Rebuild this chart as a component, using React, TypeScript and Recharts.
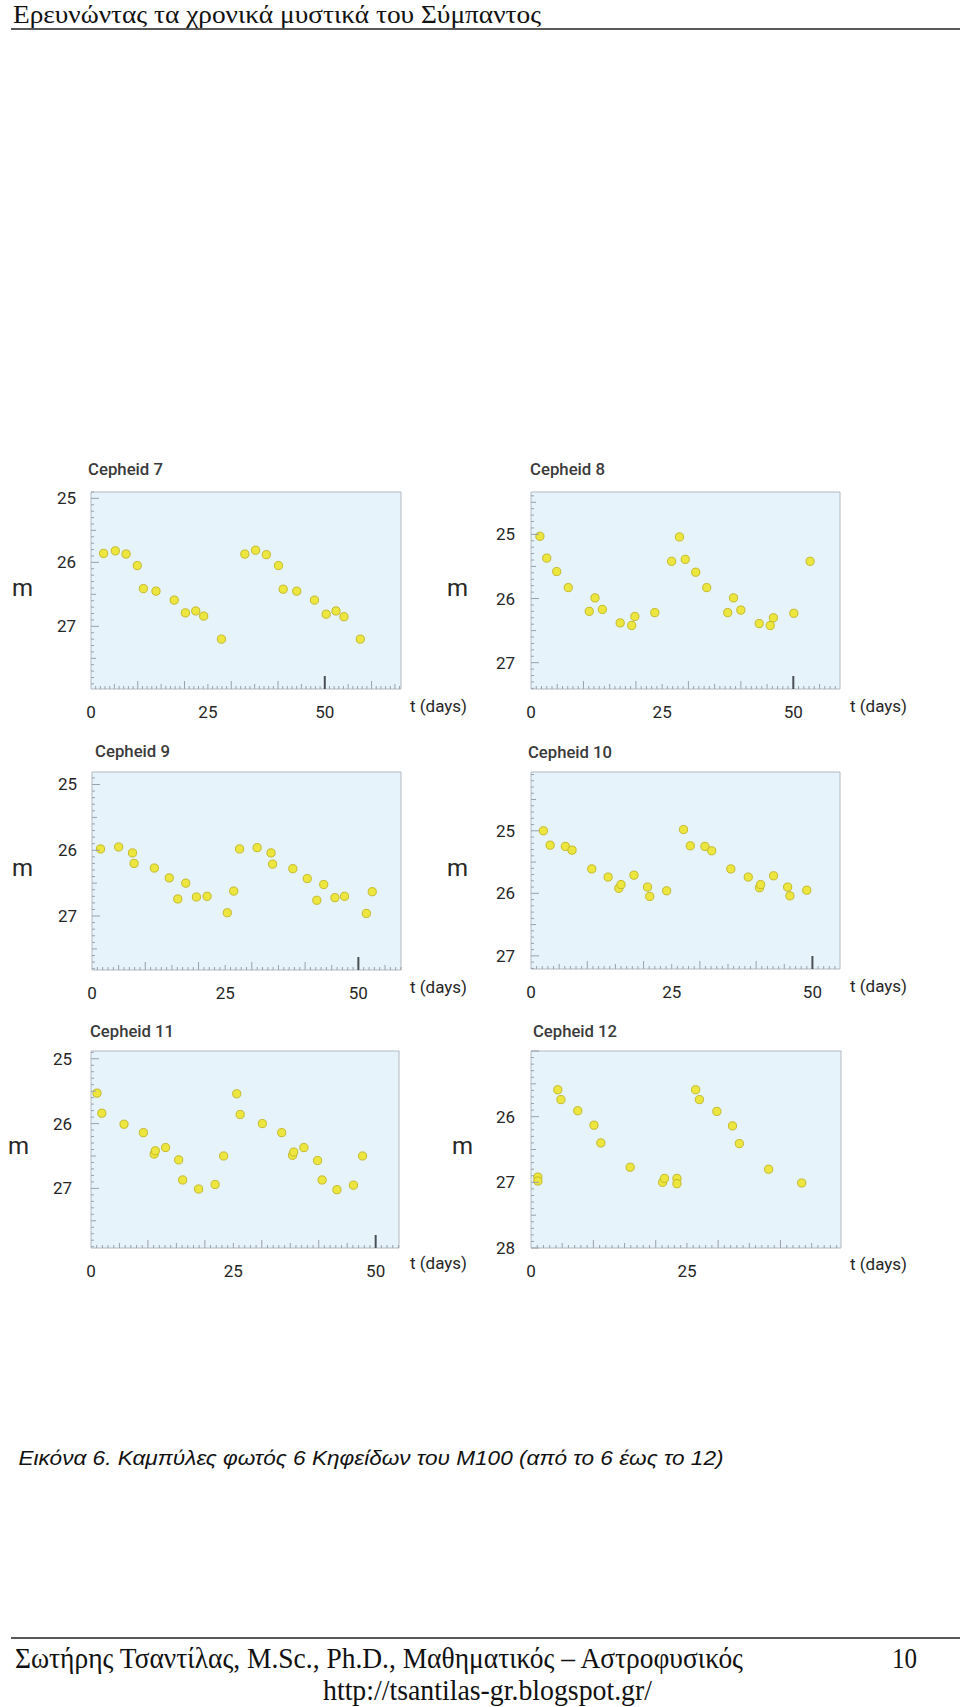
import { ScatterChart, Scatter, XAxis, YAxis, CartesianGrid, ReferenceArea } from 'recharts'

// light curves: t in days, m in magnitudes
const c7Days = [2.7, 5.2, 7.5, 9.9, 11.2, 13.9, 17.8, 20.2, 22.4, 24.1, 27.9, 32.9, 35.2, 37.5, 40.1, 41.1, 44.0, 47.8, 50.3, 52.4, 54.1, 57.6]
const c7Mags = [25.86, 25.82, 25.87, 26.05, 26.41, 26.45, 26.59, 26.79, 26.76, 26.84, 27.2, 25.87, 25.81, 25.88, 26.05, 26.42, 26.45, 26.59, 26.81, 26.76, 26.85, 27.2]

const c8Days = [1.7, 3.0, 4.9, 7.1, 11.1, 12.2, 13.6, 17.0, 19.2, 19.8, 23.6, 26.8, 28.3, 29.4, 31.4, 33.5, 37.5, 38.6, 40.0, 43.5, 45.6, 46.2, 50.1, 53.2]
const c8Mags = [25.03, 25.37, 25.58, 25.83, 26.2, 25.99, 26.17, 26.38, 26.42, 26.28, 26.22, 25.42, 25.04, 25.39, 25.59, 25.83, 26.22, 25.99, 26.18, 26.39, 26.42, 26.3, 26.23, 25.42]

const c9Days = [1.6, 5.0, 7.6, 7.9, 11.7, 14.5, 16.1, 17.6, 19.6, 21.6, 25.4, 26.6, 27.7, 31.0, 33.6, 33.9, 37.7, 40.4, 42.2, 43.5, 45.6, 47.4, 51.5, 52.6]
const c9Mags = [25.98, 25.95, 26.04, 26.2, 26.27, 26.42, 26.74, 26.5, 26.71, 26.7, 26.95, 26.62, 25.98, 25.96, 26.04, 26.21, 26.28, 26.43, 26.76, 26.52, 26.72, 26.7, 26.96, 26.63]

const c10Days = [2.2, 3.4, 6.1, 7.3, 10.8, 13.7, 15.6, 16.0, 18.3, 20.7, 21.1, 24.1, 27.1, 28.3, 30.9, 32.1, 35.5, 38.6, 40.6, 40.8, 43.1, 45.6, 46.0, 49.0]
const c10Mags = [25.0, 25.23, 25.25, 25.31, 25.61, 25.74, 25.92, 25.86, 25.71, 25.9, 26.05, 25.96, 24.98, 25.24, 25.25, 25.32, 25.61, 25.74, 25.91, 25.86, 25.72, 25.9, 26.04, 25.95]

const c11Days = [1.05, 1.9, 5.8, 9.2, 11.1, 11.3, 13.1, 15.4, 16.1, 18.9, 21.8, 23.3, 25.6, 26.2, 30.1, 33.5, 35.4, 35.6, 37.4, 39.8, 40.6, 43.2, 46.1, 47.7]
const c11Mags = [25.53, 25.84, 26.01, 26.14, 26.47, 26.42, 26.37, 26.56, 26.87, 27.01, 26.94, 26.5, 25.54, 25.86, 26.0, 26.14, 26.49, 26.44, 26.37, 26.57, 26.87, 27.02, 26.95, 26.5]

const c12Days = [1.1, 1.1, 4.3, 4.8, 7.5, 10.1, 11.2, 15.9, 21.1, 21.4, 23.4, 23.4, 26.4, 27.0, 29.8, 32.3, 33.4, 38.1, 43.4]
const c12Mags = [26.92, 26.98, 25.59, 25.74, 25.91, 26.13, 26.4, 26.77, 27.0, 26.94, 26.94, 27.02, 25.59, 25.74, 25.92, 26.14, 26.41, 26.8, 27.01]

// labelled ticks
const dayLabels = [0, 25, 50]
const dayLabels12 = [0, 25]
const magLabels = [25, 26, 27]
const magLabels12 = [26, 27, 28]

const PLOT_BG = '#e7f3fb'
const BORDER = '#b2b9c0'
const TICK = '#98a1aa'
const DOT_FILL = '#ede63f'
const DOT_STROKE = '#c4b92a'
const INK = '#262626'
const SANS = 'Roboto, sans-serif'
const SERIF = '"Liberation Serif", "Times New Roman", serif'

const steps = (lo: number, hi: number, step: number) => {
  const out: number[] = []
  for (let k = Math.ceil(lo / step - 1e-6); k * step <= hi + 1e-6; k++) out.push(Math.round(k * step * 10) / 10)
  return out
}

type Cfg = {
  title: string
  l: number; t: number; r: number; b: number
  xDomain: [number, number]
  yDomain: [number, number]
  xLabels: number[]
  yLabels: number[]
  gap: number
}

const panels: { cfg: Cfg; days: number[]; mags: number[] }[] = [
  { cfg: { title: 'Cepheid 7', l: 91, t: 492, r: 401, b: 689, xDomain: [0, 66.3], yDomain: [24.9, 27.98], xLabels: dayLabels, yLabels: magLabels, gap: 15 }, days: c7Days, mags: c7Mags },
  { cfg: { title: 'Cepheid 8', l: 531, t: 492, r: 840, b: 689, xDomain: [0, 58.9], yDomain: [24.34, 27.41], xLabels: dayLabels, yLabels: magLabels, gap: 16 }, days: c8Days, mags: c8Mags },
  { cfg: { title: 'Cepheid 9', l: 92, t: 772, r: 401, b: 970, xDomain: [0, 58.0], yDomain: [24.81, 27.82], xLabels: dayLabels, yLabels: magLabels, gap: 15 }, days: c9Days, mags: c9Mags },
  { cfg: { title: 'Cepheid 10', l: 531, t: 772, r: 840, b: 969, xDomain: [0, 54.9], yDomain: [24.06, 27.21], xLabels: dayLabels, yLabels: magLabels, gap: 16 }, days: c10Days, mags: c10Mags },
  { cfg: { title: 'Cepheid 11', l: 91, t: 1051, r: 399, b: 1248, xDomain: [0, 54.1], yDomain: [24.88, 27.92], xLabels: dayLabels, yLabels: magLabels, gap: 19 }, days: c11Days, mags: c11Mags },
  { cfg: { title: 'Cepheid 12', l: 531, t: 1051, r: 841, b: 1248, xDomain: [0, 49.7], yDomain: [25.0, 28.0], xLabels: dayLabels12, yLabels: magLabels12, gap: 16 }, days: c12Days, mags: c12Mags },
]

const has = (list: number[], v: number) => list.some((x) => Math.abs(x - v) < 1e-6)

function DayTick(props: any) {
  const { x, y, payload, labels } = props
  const v = payload.value
  const d = Math.round(v)
  let len = 3
  let w = 1
  let color = TICK
  if (d % 10 === 0) len = 8
  else if (d % 5 === 0) len = 5
  if (d === 50) { len = 13; w = 2; color = '#4a4f55' }
  return (
    <g>
      {v > 0 && <line x1={x} x2={x} y1={y} y2={y - len} stroke={color} strokeWidth={w} />}
      {has(labels, v) && (
        <text x={x} y={y + 23} textAnchor="middle" dominantBaseline="central" fontFamily={SANS} fontSize={17} fill={INK}>{v}</text>
      )}
    </g>
  )
}

function MagTick(props: any) {
  const { x, y, payload, labels, gap } = props
  const v = payload.value
  const k = Math.round(v * 10)
  let len = 3
  if (k % 10 === 0) len = 8
  else if (k % 5 === 0) len = 5
  return (
    <g>
      <line x1={x} x2={x + len} y1={y} y2={y} stroke={TICK} strokeWidth={1} />
      {has(labels, v) && (
        <text x={x - gap} y={y} textAnchor="end" dominantBaseline="central" fontFamily={SANS} fontSize={17} fill={INK}>{v}</text>
      )}
    </g>
  )
}

const Dot = (p: any) => <circle cx={p.cx} cy={p.cy} r={4.1} fill={DOT_FILL} stroke={DOT_STROKE} strokeWidth={1} />

function Panel({ cfg, days, mags }: { cfg: Cfg; days: number[]; mags: number[] }) {
  const W = cfg.r - cfg.l + 55
  const H = cfg.b - cfg.t + 40
  const data = days.map((t, i) => ({ t, m: mags[i] }))
  return (
    <div style={{ position: 'absolute', left: cfg.l - 50, top: cfg.t - 5 }}>
      <ScatterChart width={W} height={H} margin={{ top: 5, right: 5, bottom: 0, left: 0 }}>
        <CartesianGrid fill={PLOT_BG} stroke="none" horizontal={false} vertical={false} />
        <XAxis
          type="number" dataKey="t" domain={cfg.xDomain} allowDataOverflow
          ticks={steps(cfg.xDomain[0], cfg.xDomain[1], 1)} interval={0}
          height={35} axisLine={false} tickLine={false} tickSize={0} tickMargin={0}
          tick={(p: any) => <DayTick {...p} labels={cfg.xLabels} />}
        />
        <YAxis
          type="number" dataKey="m" domain={cfg.yDomain} allowDataOverflow reversed
          ticks={steps(cfg.yDomain[0], cfg.yDomain[1], 0.1)} interval={0}
          width={50} axisLine={false} tickLine={false} tickSize={0} tickMargin={0}
          tick={(p: any) => <MagTick {...p} labels={cfg.yLabels} gap={cfg.gap} />}
        />
        <ReferenceArea
          x1={cfg.xDomain[0]} x2={cfg.xDomain[1]} y1={cfg.yDomain[0]} y2={cfg.yDomain[1]}
          fill="none" stroke={BORDER} strokeWidth={1} ifOverflow="visible"
        />
        <Scatter data={data} isAnimationActive={false} shape={Dot} />
      </ScatterChart>
    </div>
  )
}

// captions around the panels: [x, baseline]
const titlePos: [number, number][] = [[88, 475], [530, 475], [95, 757], [528, 758], [90, 1037], [533, 1037]]
const mPos: [number, number][] = [[12, 596], [447, 596], [12, 876], [447, 876], [8, 1154], [452, 1154]]
const tPos: [number, number][] = [[410, 712], [850, 712], [410, 993], [850, 992], [410, 1269], [850, 1270]]

export default function App() {
  return (
    <div style={{ position: 'absolute', left: 0, top: 0, width: 960, height: 1707, background: '#fff' }}>
      <svg width={960} height={1707} style={{ position: 'absolute', left: 0, top: 0 }}>
        <text x={13} y={22.5} fontFamily={SERIF} fontSize={25} fill="#111" textLength={528} lengthAdjust="spacingAndGlyphs">
          Ερευνώντας τα χρονικά μυστικά του Σύμπαντος
        </text>
        <line x1={11} x2={960} y1={29} y2={29} stroke="#222" strokeWidth={1.5} />

        {panels.map((p, i) => (
          <g key={i}>
            <text x={titlePos[i][0]} y={titlePos[i][1]} fontFamily={SANS} fontSize={17} fontWeight={500} fill="#3a3a3a" textLength={p.cfg.title.length > 9 ? 84 : 75} lengthAdjust="spacingAndGlyphs">
              {p.cfg.title}
            </text>
            <text x={mPos[i][0]} y={mPos[i][1]} fontFamily={SANS} fontSize={24} fill={INK}>m</text>
            <text x={tPos[i][0]} y={tPos[i][1]} fontFamily={SANS} fontSize={17} fill={INK}>t (days)</text>
          </g>
        ))}

        <text x={18.5} y={1465} fontFamily='"Liberation Sans", Arial, sans-serif' fontStyle="italic" fontSize={20} fill="#111" textLength={705} lengthAdjust="spacingAndGlyphs">
          Εικόνα 6. Καμπύλες φωτός 6 Κηφείδων του M100 (από το 6 έως το 12)
        </text>

        <line x1={11} x2={960} y1={1638} y2={1638} stroke="#222" strokeWidth={1.5} />
        <text x={15} y={1668} fontFamily={SERIF} fontSize={30} fill="#111" textLength={728} lengthAdjust="spacingAndGlyphs">
          Σωτήρης Τσαντίλας, M.Sc., Ph.D., Μαθηματικός – Αστροφυσικός
        </text>
        <text x={892} y={1668} fontFamily={SERIF} fontSize={30} fill="#111" textLength={25} lengthAdjust="spacingAndGlyphs">10</text>
        <text x={323} y={1700} fontFamily={SERIF} fontSize={30} fill="#111" textLength={329} lengthAdjust="spacingAndGlyphs">
          http://tsantilas-gr.blogspot.gr/
        </text>
      </svg>
      {panels.map((p, i) => (
        <Panel key={i} cfg={p.cfg} days={p.days} mags={p.mags} />
      ))}
    </div>
  )
}
